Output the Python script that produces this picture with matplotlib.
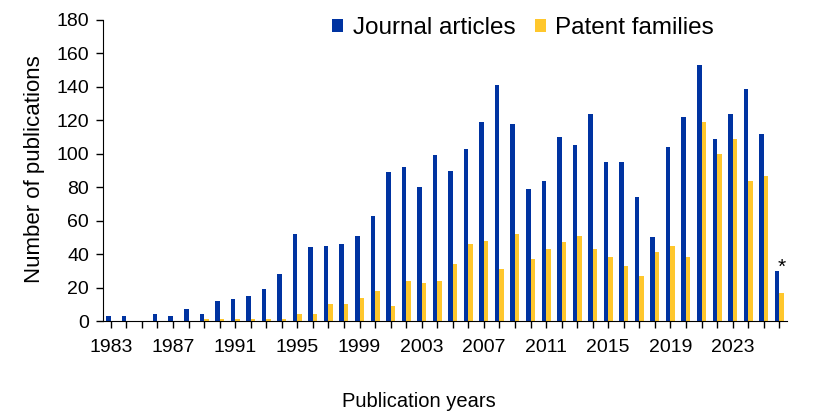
import numpy as np
import matplotlib.pyplot as plt

plt.rcParams['font.family'] = ['Liberation Sans', 'DejaVu Sans']

# Data (2026 = partial year, marked with *)
years = np.arange(1983, 2027)
journal = [3, 3, 0, 4, 3, 7, 4, 12, 13, 15, 19, 28, 52, 44, 45, 46, 51, 63, 89, 92,
           80, 99, 90, 103, 119, 141, 118, 79, 84, 110, 105, 124, 95, 95, 74, 50,
           104, 122, 153, 109, 124, 139, 112, 30]
patents = [0, 0, 0, 0, 0, 0, 1, 1, 1, 1, 1, 1, 4, 4, 10, 10, 14, 18, 9, 24,
           23, 24, 34, 46, 48, 31, 52, 37, 43, 47, 51, 43, 38, 33, 27, 41,
           45, 38, 119, 100, 109, 84, 87, 17]
tick_years = np.arange(1983, 2024, 4)

blue = '#0033a1'
yellow = '#ffc72c'
w = 0.29

fig = plt.figure(figsize=(8.16, 4.2), dpi=100)
ax = fig.add_axes([103/816, 1-321/420, 684/816, 301/420])

ax.bar(years - w/2, journal, width=w, color=blue, label='Journal articles')
ax.bar(years + w/2, patents, width=w, color=yellow, label='Patent families')

# partial-year marker
ax.text(years[-1] + 0.15, journal[-1] - 1, '*', fontsize=15, ha='center', va='baseline')

ax.set_xlim(1982.5, 2026.5)
ax.set_ylim(0, 180)
ax.set_yticks(np.arange(0, 181, 20))
ax.set_xticks(tick_years)
ax.set_xticks(years, minor=True)
ax.tick_params(axis='both', labelsize=14, direction='out', length=5, width=1)
ax.tick_params(axis='x', which='minor', length=5, width=1)
ax.tick_params(axis='x', pad=8)
ax.tick_params(axis='y', pad=5)

for s in ['top', 'right']:
    ax.spines[s].set_visible(False)

ax.set_ylabel('Number of publications', fontsize=16)
ax.yaxis.set_label_coords(-(103 - 45) / 684, 0.5 + (171 - 170) / 301)
ax.set_xlabel('Publication years', fontsize=14.5)
ax.xaxis.set_label_coords((419 - 103) / 684, -(392 - 321) / 301)

fig.legend(*ax.get_legend_handles_labels(), loc='center',
           bbox_to_anchor=(523/816, 1-28/420), ncol=2, frameon=False,
           fontsize=17.5, handlelength=0.45, handleheight=0.45, handletextpad=0.4,
           columnspacing=0.8, borderpad=0, borderaxespad=0)

fig.savefig('out.png', dpi=100)
